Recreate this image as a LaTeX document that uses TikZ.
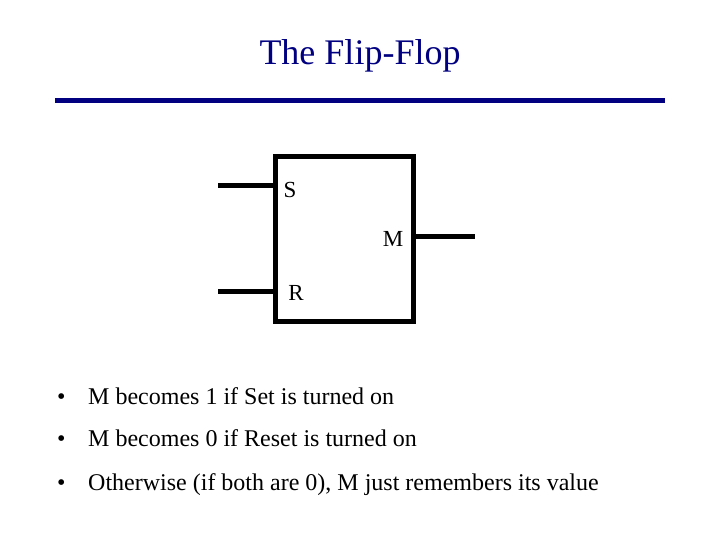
\documentclass[tikz,border=0pt]{standalone}
\usepackage{fontspec}
\setmainfont{Liberation Serif}
\definecolor{navy}{HTML}{000080}
\begin{document}
\begin{tikzpicture}[x=1pt,y=-1pt,
  wire/.style={line width=5pt},
  lbl/.style={font=\fontsize{23}{26}\selectfont, inner sep=0pt},
  btxt/.style={font=\fontsize{24}{28}\selectfont, inner sep=0pt, anchor=base west}]
\useasboundingbox (0,0) rectangle (720,540);
\node[font=\fontsize{36}{40}\selectfont, text=navy, inner sep=0pt] (title) at (360,56) {The Flip-Flop};
\draw[line width=5pt, navy] (55,101) coordinate (l1) -- (665,101) coordinate (l2);
\node[draw, line width=5pt, minimum width=138pt, minimum height=164pt, inner sep=0pt] (box) at (344,239) {};
\coordinate (sin) at (218,186);
\coordinate (rin) at (218,291);
\coordinate (mout) at (475,236);
\draw[wire] (sin) -- (sin -| box.west);
\draw[wire] (rin) -- (rin -| box.west);
\draw[wire] (mout -| box.east) -- (mout);
\node[lbl] (s) at (290,190) {S};
\node[lbl] (m) at (393,239) {M};
\node[lbl] (r) at (296,293) {R};
\node[btxt] (b1) at (57,404) {•};
\node[btxt] (t1) at (88,404) {M becomes 1 if Set is turned on};
\node[btxt] (b2) at (57,446) {•};
\node[btxt] (t2) at (88,446) {M becomes 0 if Reset is turned on};
\node[btxt] (b3) at (57,490) {•};
\node[btxt] (t3) at (88,490) {Otherwise (if both are 0), M just remembers its value};
\end{tikzpicture}
\end{document}
